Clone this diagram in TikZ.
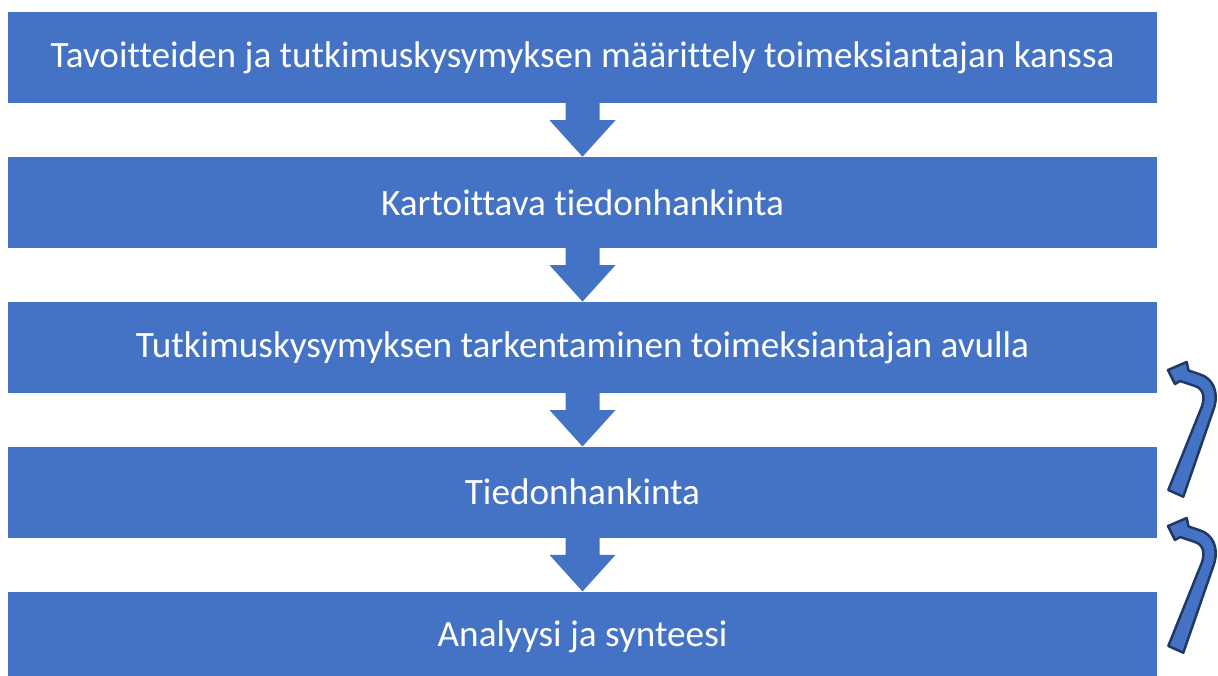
\documentclass[tikz,border=0pt]{standalone}
\usepackage{fontspec}
\setmainfont[Ligatures={NoCommon}]{Carlito}
\usepackage{tikz}
\usetikzlibrary{positioning,calc}

\definecolor{boxblue}{HTML}{4472C4}
\definecolor{edgeblue}{HTML}{203864}

\tikzset{
  stepbox/.style={fill=boxblue, text=white, minimum width=1149.5pt, minimum height=91pt,
    inner sep=0pt, font=\fontsize{37.2}{44}\selectfont},
  backarrow/.style={fill=boxblue, draw=edgeblue, line width=2.5pt, line join=round}
}

% down arrow from one box to the next
\newcommand{\flowarrow}[2]{%
  \fill[boxblue] ($(#1.south)+(-17,0)$) -- ($(#1.south)+(17,0)$) -- ($(#1.south)+(17,17)$)
    -- ($(#1.south)+(33,17)$) -- (#2.north) -- ($(#1.south)+(-33,17)$)
    -- ($(#1.south)+(-17,17)$) -- cycle;}

\begin{document}
\begin{tikzpicture}[x=1pt, y=-1pt, node distance=53.5pt]
  \useasboundingbox (0,0) rectangle (1218,675);

  % Boxes
  \node[stepbox] (b1) at (582.5,57.5) {Tavoitteiden ja tutkimuskysymyksen määrittely toimeksiantajan kanssa};
  \node[stepbox, below=of b1] (b2) {Kartoittava tiedonhankinta};
  \node[stepbox, below=of b2] (b3) {Tutkimuskysymyksen tarkentaminen toimeksiantajan avulla};
  \node[stepbox, below=of b3] (b4) {Tiedonhankinta};
  \node[stepbox, below=of b4] (b5) {Analyysi ja synteesi};

  % Arrows
  \flowarrow{b1}{b2}
  \flowarrow{b2}{b3}
  \flowarrow{b3}{b4}
  \flowarrow{b4}{b5}

  % Feedback arrows
  \foreach \dy in {0,156} {
    \draw[backarrow, shift={(0,\dy)}] (1183.3,496.7) -- (1214,408)
      .. controls (1219,392) and (1213,378) .. (1199,374) -- (1188.5,370.5)
      -- (1186.7,362) -- (1168,370) -- (1175,384) -- (1180,381)
      -- (1195,386) .. controls (1204,389) and (1205,398) .. (1201.7,407)
      -- (1168.3,490) -- cycle;
  }
\end{tikzpicture}
\end{document}
